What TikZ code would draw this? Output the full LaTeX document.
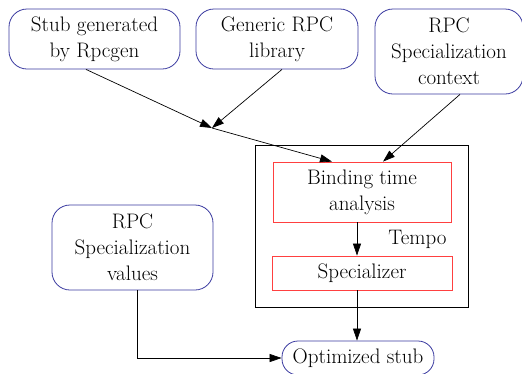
\documentclass[tikz,border=0pt]{standalone}
\usetikzlibrary{arrows.meta}
\definecolor{bblue}{HTML}{3A3AA0}
\definecolor{rred}{HTML}{FF4040}
\begin{document}
\begin{tikzpicture}[x=1pt,y=-1pt,
  every node/.style={font=\fontsize{21}{26}\selectfont, align=center, inner sep=0pt},
  inbox/.style={draw=bblue, line width=0.8pt, rounded corners=18pt},
  stepbox/.style={draw=rred, line width=0.8pt},
  arr/.style={line width=0.7pt, -{Triangle[length=12pt,width=8pt]}},
  ln/.style={line width=0.7pt}]
\useasboundingbox (0,0) rectangle (522,373);
\clip (0,0) rectangle (522,373);
\node[inbox, minimum width=171pt, minimum height=60pt] (b1) at (94.5,39) {Stub generated\\by Rpcgen};
\node[inbox, minimum width=162pt, minimum height=60pt] (b2) at (277,39) {Generic RPC\\library};
\node[inbox, minimum width=148pt, minimum height=85pt] (b3) at (449,51.5) {RPC\\Specialization\\context};
\coordinate (J) at (212,128);
\node[draw, line width=0.8pt, minimum width=213pt, minimum height=162pt] (tempo) at (361.5,226) {};
\node[stepbox, minimum width=178pt, minimum height=60pt] (bta) at (362,192) {Binding time\\analysis};
\node[stepbox, minimum width=180pt, minimum height=34pt] (spec) at (362,273) {Specializer};
\node (tl) at (417.5,239) {Tempo};
\node[inbox, minimum width=161pt, minimum height=85pt] (vals) at (132.5,247.5) {RPC\\Specialization\\values};
\node[inbox, rounded corners=16pt, minimum width=152pt, minimum height=34pt] (opt) at (358,358) {Optimized stub};
\draw[arr] ([xshift=-8.5pt]b1.south) -- (J);
\draw[arr] ([xshift=5pt]b2.south) -- (J);
\draw[arr] (J) -- ([xshift=-30pt]bta.north);
\draw[arr] ([xshift=11pt]b3.south) -- ([xshift=21pt]bta.north);
\draw[arr] ([xshift=-5pt]bta.south) -- ([xshift=-5pt]spec.north);
\draw[arr] ([xshift=-5pt]spec.south) -- ([xshift=-1pt]opt.north);
\draw[arr] ([xshift=4.5pt]vals.south) |- (opt.west);
\end{tikzpicture}
\end{document}
